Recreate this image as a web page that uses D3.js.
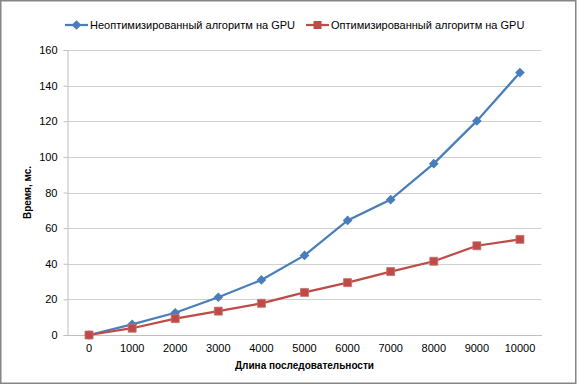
<!DOCTYPE html>
<html>
<head>
<meta charset="utf-8">
<script src="https://cdn.jsdelivr.net/npm/d3@7"></script>
<style>
  body { margin: 0; background: #fff; }
  text { font-family: "Liberation Sans", Arial, sans-serif; fill: #000; }
</style>
</head>
<body>
<div id="chart"></div>
<script>
const lengths = ["0", "1000", "2000", "3000", "4000", "5000", "6000", "7000", "8000", "9000", "10000"];
const unoptimized = [0, 6, 12.5, 21.2, 30.9, 44.7, 64.3, 76, 96.2, 120.2, 147.3];
const optimized = [0, 3.8, 9.2, 13.4, 17.8, 23.9, 29.4, 35.6, 41.4, 50.1, 53.7];
const seriesNames = ["Неоптимизированный алгоритм на GPU", "Оптимизированный алгоритм на GPU"];
const yTicks = [0, 20, 40, 60, 80, 100, 120, 140, 160];

const W = 578, H = 385;
const plot = { left: 67.5, right: 541.5, top: 50, bottom: 335 };

const svg = d3.select("#chart").append("svg")
  .attr("width", W)
  .attr("height", H);

svg.append("rect")
  .attr("x", 0.75).attr("y", 0.75)
  .attr("width", W - 3).attr("height", H - 2.5)
  .attr("fill", "#fff")
  .attr("stroke", "#868686")
  .attr("stroke-width", 1.5);

const x = d3.scaleBand()
  .domain(lengths)
  .range([plot.left, plot.right]);

const y = d3.scaleLinear()
  .domain([0, 160])
  .range([plot.bottom, plot.top]);

const cx = d => x(d) + x.bandwidth() / 2;

// gridlines
svg.append("g")
  .selectAll("line")
  .data(yTicks.filter(t => t > 0))
  .join("line")
  .attr("x1", plot.left).attr("x2", plot.right)
  .attr("y1", d => Math.round(y(d)) + 0.5).attr("y2", d => Math.round(y(d)) + 0.5)
  .attr("stroke", "#d0d0d0")
  .attr("stroke-width", 1.2);

// y axis
const yAxis = svg.append("g")
  .attr("transform", `translate(${plot.left},0)`)
  .call(d3.axisLeft(y).tickValues(yTicks).tickSize(4).tickPadding(6));
yAxis.select(".domain").attr("stroke", "#bfbfbf");
yAxis.selectAll(".tick line").attr("stroke", "#bfbfbf");
yAxis.selectAll("text").attr("font-size", 11).attr("font-family", "Liberation Sans, Arial, sans-serif");

// x axis
const xAxis = svg.append("g")
  .attr("transform", `translate(0,${plot.bottom})`)
  .call(d3.axisBottom(x).tickSize(0).tickPadding(9));
xAxis.select(".domain").attr("stroke", "#bfbfbf").attr("stroke-width", 1.2);
xAxis.selectAll("text").attr("font-size", 11).attr("font-family", "Liberation Sans, Arial, sans-serif");

// axis titles
svg.append("text")
  .attr("x", (plot.left + plot.right) / 2)
  .attr("y", 369)
  .attr("text-anchor", "middle")
  .attr("font-size", 10)
  .attr("font-weight", "bold")
  .text("Длина последовательности");

svg.append("text")
  .attr("transform", `translate(31,${(plot.top + plot.bottom) / 2}) rotate(-90)`)
  .attr("text-anchor", "middle")
  .attr("font-size", 10)
  .attr("font-weight", "bold")
  .text("Время, мс.");

const line = d3.line()
  .x((d, i) => cx(lengths[i]))
  .y(d => y(d));

const blue = "#4a7ebb", red = "#be4b48";
const diamond = d3.symbol().type(d3.symbolDiamond2).size(60);
const square = d3.symbol().type(d3.symbolSquare).size(64);

svg.append("path")
  .datum(unoptimized)
  .attr("fill", "none")
  .attr("stroke", blue)
  .attr("stroke-width", 2.25)
  .attr("d", line);

svg.append("path")
  .datum(optimized)
  .attr("fill", "none")
  .attr("stroke", red)
  .attr("stroke-width", 2.25)
  .attr("d", line);

svg.append("g")
  .selectAll("path")
  .data(unoptimized)
  .join("path")
  .attr("transform", (d, i) => `translate(${cx(lengths[i])},${y(d)})`)
  .attr("d", diamond)
  .attr("fill", blue);

svg.append("g")
  .selectAll("path")
  .data(optimized)
  .join("path")
  .attr("transform", (d, i) => `translate(${cx(lengths[i])},${y(d)})`)
  .attr("d", square)
  .attr("fill", red)
  .attr("stroke", "#c9706d")
  .attr("stroke-width", 0.8);

// legend
const legend = [
  { name: seriesNames[0], color: blue, shape: diamond, x: 65 },
  { name: seriesNames[1], color: red, shape: square, x: 306 }
];
const lg = svg.append("g").selectAll("g")
  .data(legend)
  .join("g")
  .attr("transform", d => `translate(${d.x},25)`);
lg.append("line")
  .attr("x1", 0).attr("x2", 23)
  .attr("stroke", d => d.color)
  .attr("stroke-width", 2.25);
lg.append("path")
  .attr("transform", "translate(11.5,0)")
  .attr("d", d => d.shape())
  .attr("fill", d => d.color);
lg.append("text")
  .attr("x", 25)
  .attr("dy", "0.35em")
  .attr("font-size", 11)
  .text(d => d.name);
</script>
</body>
</html>
